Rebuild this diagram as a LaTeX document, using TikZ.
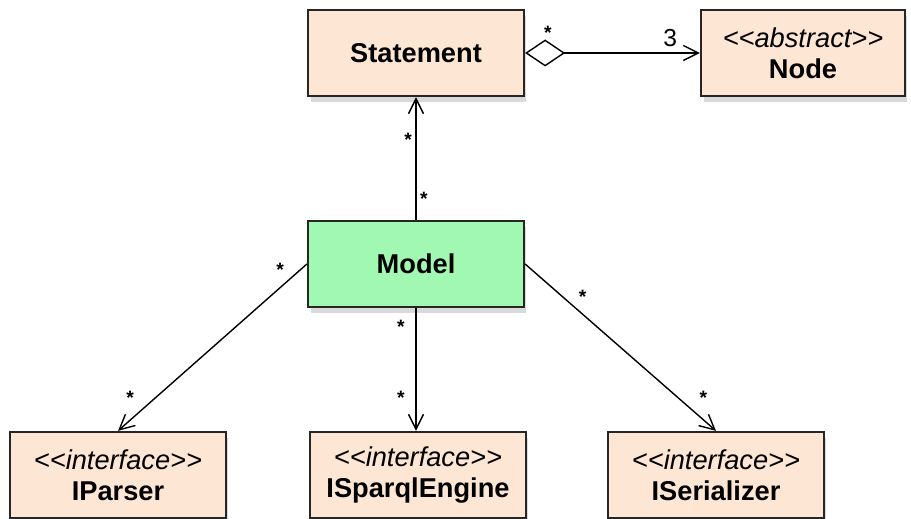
\documentclass[tikz,border=0pt]{standalone}
\usepackage{fontspec}
\setmainfont{Liberation Sans}
\usetikzlibrary{arrows.meta,shadows}

\definecolor{classfill}{RGB}{253,230,211}
\definecolor{modelfill}{RGB}{160,248,178}

\begin{document}
\begin{tikzpicture}[x=0.02cm, y=-0.02cm,
    umlclass/.style={draw=black!85, line width=1.3pt, fill=classfill,
      minimum width=4.32cm, minimum height=1.72cm, align=center,
      font=\fontsize{15.5}{17.5}\selectfont,
      drop shadow={shadow xshift=0.05cm, shadow yshift=-0.12cm, opacity=0.3}},
    assoc/.style={line width=0.8pt, -{Straight Barb[length=0.3cm, width=0.3cm]}},
    mult/.style={font=\fontsize{11}{11}\selectfont\bfseries, inner sep=2pt}]
  \useasboundingbox (0,0) rectangle (911,519);

  % Top row
  \node[umlclass] (stmt) at (416,53) {\textbf{Statement}};
  \node[umlclass, minimum width=4.08cm] (node) at (803,53)
    {\textit{<{}<abstract>{}>}\\ \textbf{Node}};

  % Aggregation Statement -> Node
  \draw[line width=0.8pt, {Diamond[open, length=0.8cm, width=0.54cm]}-{Straight Barb[length=0.3cm, width=0.3cm]}]
    (stmt.east) -- (node.west)
    node[mult, pos=0.13, above=5pt] (m1) {*}
    node[pos=0.83, above=0pt, font=\fontsize{14}{14}\selectfont] (m2) {3};

  % Model
  \node[umlclass, fill=modelfill] (model) at (416,264) {\textbf{Model}};

  % Model -> Statement
  \draw[assoc] (model.north) -- (stmt.south)
    node[mult, pos=0.17, right] (m3) {*}
    node[mult, pos=0.65, left] (m4) {*};

  % Interfaces
  \node[umlclass] (parser) at (118,475) {\textit{<{}<interface>{}>}\\ \textbf{IParser}};
  \node[umlclass] (engine) at (418,475) {\textit{<{}<interface>{}>}\\ \textbf{ISparqlEngine}};
  \node[umlclass] (serializer) at (716,475) {\textit{<{}<interface>{}>}\\ \textbf{ISerializer}};

  % Model -> interfaces
  \draw[assoc] (model.west) -- (parser.north)
    node[mult, pos=0.1, above left] (m5) {*}
    node[mult, pos=0.8, left=10pt] (m6) {*};
  \draw[assoc] (model.south) -- (model.south |- engine.north)
    node[mult, pos=0.15, left=4pt] (m7) {*}
    node[mult, pos=0.73, left=4pt] (m8) {*};
  \draw[assoc] (model.east) -- (serializer.north)
    node[mult, pos=0.26, above right] (m9) {*}
    node[mult, pos=0.8, right=10pt] (m10) {*};

\end{tikzpicture}
\end{document}
